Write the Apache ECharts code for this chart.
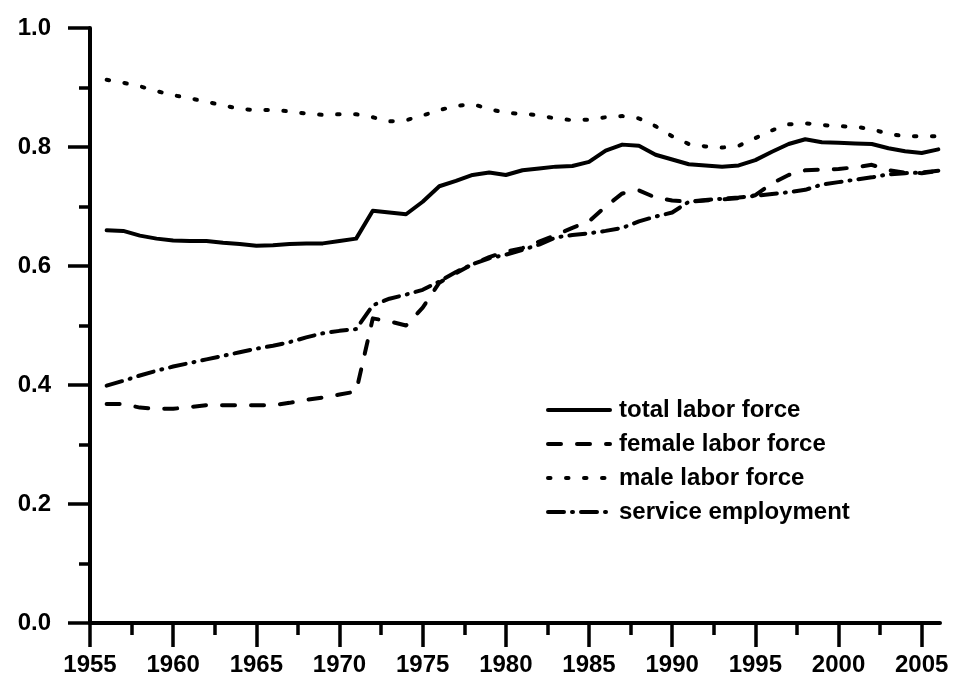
<!DOCTYPE html>
<html>
<head>
<meta charset="utf-8">
<script src="https://cdn.jsdelivr.net/npm/echarts@6/dist/echarts.min.js"></script>
<style>html,body{margin:0;padding:0;background:#fff}#c{width:956px;height:693px}</style>
</head>
<body>
<div id="c"></div>
<script>
const years = [];
for (let y = 1956; y <= 2006; y++) years.push(y);

const totalLabor = [0.660,0.659,0.651,0.646,0.643,0.642,0.642,0.639,0.637,0.634,
  0.635,0.637,0.638,0.638,0.642,0.646,0.693,0.690,0.687,0.708,
  0.734,0.743,0.753,0.757,0.753,0.761,0.764,0.767,0.768,0.775,
  0.794,0.804,0.802,0.787,0.779,0.771,0.769,0.767,0.769,0.778,
  0.792,0.805,0.813,0.808,0.807,0.806,0.805,0.798,0.793,0.790,0.796];

const femaleLabor = [0.368,0.368,0.362,0.360,0.360,0.363,0.366,0.366,0.366,0.366,
  0.366,0.370,0.375,0.379,0.384,0.389,0.512,0.507,0.500,0.530,
  0.572,0.588,0.603,0.615,0.624,0.630,0.641,0.652,0.664,0.675,
  0.700,0.722,0.727,0.715,0.710,0.708,0.710,0.712,0.714,0.719,
  0.739,0.753,0.761,0.762,0.763,0.766,0.770,0.761,0.757,0.756,0.760];

const maleLabor = [0.913,0.908,0.902,0.894,0.887,0.882,0.876,0.870,0.864,0.862,
  0.862,0.860,0.856,0.854,0.855,0.855,0.850,0.843,0.845,0.853,
  0.862,0.869,0.872,0.864,0.857,0.856,0.853,0.848,0.845,0.846,
  0.850,0.852,0.848,0.835,0.818,0.805,0.801,0.799,0.802,0.815,
  0.828,0.838,0.840,0.837,0.835,0.834,0.830,0.822,0.818,0.818,0.818];

const serviceEmp = [0.399,0.407,0.416,0.424,0.431,0.437,0.443,0.449,0.455,0.461,
  0.466,0.472,0.480,0.487,0.491,0.494,0.534,0.545,0.552,0.560,
  0.574,0.590,0.603,0.613,0.619,0.627,0.636,0.648,0.652,0.655,
  0.659,0.664,0.675,0.683,0.690,0.708,0.711,0.713,0.715,0.718,
  0.721,0.724,0.728,0.737,0.741,0.745,0.749,0.754,0.756,0.757,0.760];

const xMajorTicks = [1955,1960,1965,1970,1975,1980,1985,1990,1995,2000,2005];
const xMinorTicks = [1957.5,1962.5,1967.5,1972.5,1977.5,1982.5,1987.5,1992.5,1997.5,2002.5];

const seriesNames = ['total labor force','female labor force','male labor force','service employment'];

const pair = arr => years.map((y, i) => [y, arr[i]]);
const FONT = 'Liberation Sans, Arial, sans-serif';

const chart = echarts.init(document.getElementById('c'), null, {renderer: 'canvas'});
const mkSeries = (name, data, dash) => ({
  name, type: 'line', data: pair(data), xAxisIndex: 0, symbol: 'none', showSymbol: false,
  animation: false,
  lineStyle: {color: '#000', width: 4, type: dash, cap: 'round', join: 'round'},
  itemStyle: {color: '#000'}
});

chart.setOption({
  animation: false,
  backgroundColor: '#fff',
  grid: {left: 90, right: 16, top: 28, bottom: 70, containLabel: false},
  legend: {
    orient: 'vertical', left: 546, top: 397, padding: 0,
    itemWidth: 62, itemHeight: 14, itemGap: 8,
    data: seriesNames,
    itemStyle: {opacity: 0},
    lineStyle: {width: 4, cap: 'round'},
    textStyle: {fontFamily: FONT, fontSize: 24, fontWeight: 'bold', color: '#000', lineHeight: 26, padding: [0,0,0,4]}
  },
  xAxis: [{
    type: 'value', min: 1955, max: 2006.1, position: 'bottom',
    axisLine: {show: true, onZero: false, lineStyle: {color: '#000', width: 4}},
    axisTick: {show: true, inside: false, length: 24, customValues: xMajorTicks, lineStyle: {color: '#000', width: 3.5}},
    axisLabel: {customValues: xMajorTicks, margin: 30, fontFamily: FONT, fontSize: 24, fontWeight: 'bold', color: '#000', formatter: v => String(v)},
    splitLine: {show: false}
  }, {
    type: 'value', min: 1955, max: 2006.1, position: 'bottom', offset: 0,
    axisLine: {show: false},
    axisTick: {show: true, inside: false, length: 12, customValues: xMinorTicks, lineStyle: {color: '#000', width: 3.5}},
    axisLabel: {show: false},
    splitLine: {show: false}
  }],
  yAxis: {
    type: 'value', min: 0, max: 1, interval: 0.2,
    axisLine: {show: true, onZero: false, lineStyle: {color: '#000', width: 4}},
    axisTick: {show: true, length: 22, lineStyle: {color: '#000', width: 3.5}},
    minorTick: {show: true, splitNumber: 2, length: 11, lineStyle: {color: '#000', width: 3.5}},
    axisLabel: {margin: 39, fontFamily: FONT, fontSize: 24, fontWeight: 'bold', color: '#000', formatter: v => v.toFixed(1)},
    splitLine: {show: false}
  },
  series: [
    mkSeries(seriesNames[0], totalLabor, 'solid'),
    mkSeries(seriesNames[1], femaleLabor, [13, 16]),
    mkSeries(seriesNames[2], maleLabor, [2.5, 15.5]),
    mkSeries(seriesNames[3], serviceEmp, [16, 8, 1, 8])
  ]
});
</script>
</body>
</html>
